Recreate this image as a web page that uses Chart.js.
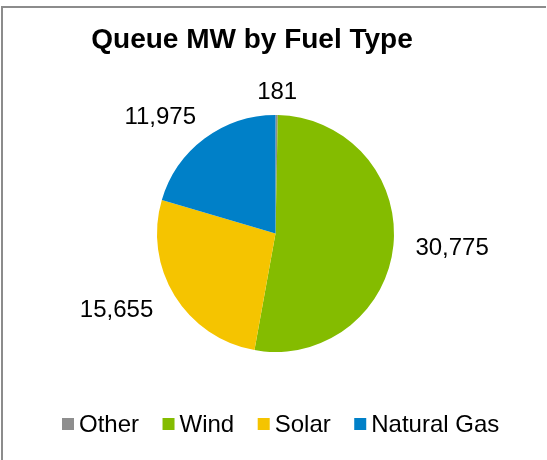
<!DOCTYPE html>
<html lang="en">
<head>
    <meta charset="UTF-8">
    <title>Queue MW by Fuel Type</title>
    <style>
        body {
            margin: 0;
            background-color: #ffffff;
            overflow: hidden;
        }
        #chart {
            display: block;
        }
    </style>
</head>
<body>

<canvas id="chart" width="547" height="460"></canvas>

<script src="https://cdn.jsdelivr.net/npm/chart.js"></script>
<script>
    // Daten
    const fuelTypes = ['Other', 'Wind', 'Solar', 'Natural Gas'];
    const queueMW = [181, 30775, 15655, 11975];
    const sliceColors = ['#8e8e8e', '#84bc00', '#f5c400', '#0080c8'];
    const chartTitle = 'Queue MW by Fuel Type';

    const FONT = '"Liberation Sans", Arial, sans-serif';

    // Rahmen, Titel, Beschriftungen und Legende
    const decorations = {
        id: 'decorations',
        beforeDraw(chart) {
            const c = chart.ctx;
            c.save();
            c.fillStyle = '#8c8c8c';
            c.fillRect(1, 6, 545, 2);
            c.fillRect(1, 6, 2, 454);
            c.restore();
        },
        afterDatasetsDraw(chart) {
            const c = chart.ctx;
            const meta = chart.getDatasetMeta(0);
            c.save();

            // Titel
            c.font = 'bold 28px ' + FONT;
            c.fillStyle = '#000';
            c.textAlign = 'center';
            c.textBaseline = 'alphabetic';
            c.fillText(chartTitle, 252, 48);

            // Datenbeschriftungen ausserhalb der Segmente
            c.font = '24px ' + FONT;
            c.textBaseline = 'middle';
            meta.data.forEach((arc, i) => {
                const mid = (arc.startAngle + arc.endAngle) / 2;
                const cos = Math.cos(mid), sin = Math.sin(mid);
                const text = queueMW[i].toLocaleString('en-US');
                const w = c.measureText(text).width;
                const r = arc.outerRadius + 4;
                const fx = Math.min(1, Math.abs(cos) * 1.3) * Math.sign(cos);
                const fy = Math.min(1, Math.abs(sin) * 1.3) * Math.sign(sin);
                const x = arc.x + r * cos + fx * (w / 2 + 18);
                const y = arc.y + r * sin + fy * 18.5;
                c.fillText(text, x, y);
            });

            // Legende
            c.textAlign = 'left';
            c.textBaseline = 'alphabetic';
            let lx = 62;
            fuelTypes.forEach((name, i) => {
                c.fillStyle = sliceColors[i];
                c.fillRect(lx, 418, 12, 12);
                c.fillStyle = '#000';
                c.fillText(name, lx + 17, 432);
                lx += 17 + c.measureText(name).width + 23.5;
            });
            c.restore();
        }
    };

    new Chart(document.getElementById('chart'), {
        type: 'pie',
        data: {
            labels: fuelTypes,
            datasets: [{
                data: queueMW,
                backgroundColor: sliceColors,
                borderWidth: 0
            }]
        },
        options: {
            responsive: false,
            animation: false,
            layout: {
                padding: { left: 157, right: 153, top: 115, bottom: 108 }
            },
            plugins: {
                legend: { display: false },
                title: { display: false },
                tooltip: { enabled: false }
            }
        },
        plugins: [decorations]
    });
</script>

</body>
</html>
